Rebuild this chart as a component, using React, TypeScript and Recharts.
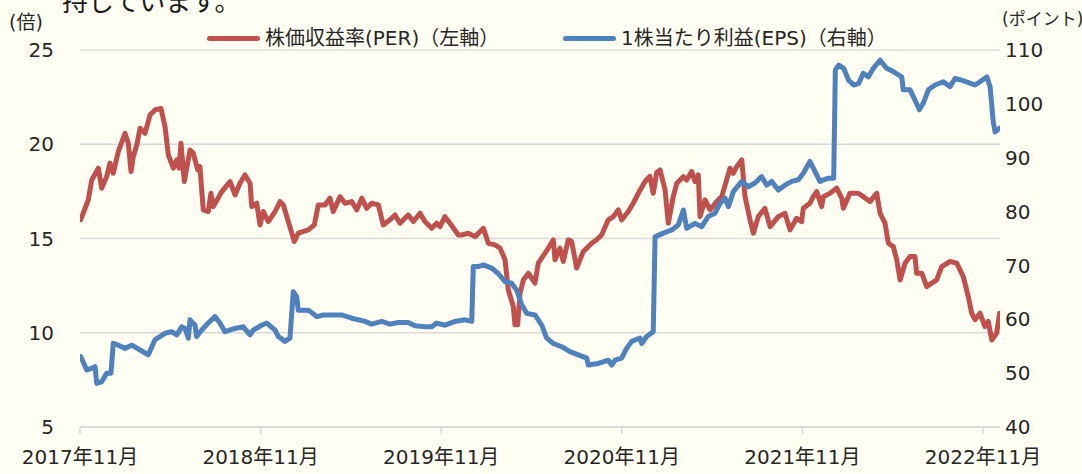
import React from 'react';
import { LineChart, Line, XAxis, YAxis, CartesianGrid, Legend } from 'recharts';

// Months elapsed since 2017年11月 for each reading
const perMonth = [
  0.05, 0.55, 0.78, 1.22, 1.44, 1.77, 1.99, 2.21, 2.54, 2.99,
  3.21, 3.39, 3.54, 3.77, 3.99, 4.32, 4.65, 4.98, 5.38, 5.65,
  5.87, 6.2, 6.43, 6.58, 6.71, 6.93, 7.31, 7.53, 7.82, 7.97,
  8.19, 8.52, 8.7, 8.86, 9.42, 9.97, 10.3, 10.63, 10.96, 11.3,
  11.41, 11.74, 11.96, 12.18, 12.51, 12.96, 13.29, 13.51, 13.84, 14.24,
  14.5, 15.17, 15.57, 15.83, 16.28, 16.61, 16.83, 17.28, 17.61, 18.05,
  18.39, 18.72, 19.05, 19.38, 19.82, 20.15, 20.6, 20.93, 21.26, 21.81,
  22.15, 22.59, 22.92, 23.37, 23.7, 23.92, 24.25, 24.58, 25.14, 25.36,
  25.8, 26.25, 26.8, 27.13, 27.57, 27.91, 28.24, 28.46, 28.79, 28.9,
  29.08, 29.24, 29.46, 29.79, 30.23, 30.45, 30.9, 31.45, 31.56, 31.89,
  32.11, 32.44, 32.67, 33.0, 33.44, 34.0, 34.33, 34.66, 35.1, 35.44,
  35.77, 35.99, 36.43, 36.76, 37.1, 37.54, 37.87, 38.09, 38.32, 38.54,
  38.87, 39.09, 39.42, 39.65, 40.09, 40.31, 40.64, 40.86, 41.08, 41.2,
  41.53, 41.86, 42.31, 42.64, 43.19, 43.41, 43.63, 43.97, 44.19, 44.52,
  44.74, 45.07, 45.51, 45.85, 46.4, 46.84, 47.18, 47.62, 47.95, 48.06,
  48.5, 48.72, 48.95, 49.28, 49.39, 49.83, 50.28, 50.61, 50.72, 51.16,
  51.71, 52.05, 52.49, 52.94, 53.16, 53.49, 53.71, 54.04, 54.27, 54.49,
  54.82, 55.15, 55.48, 55.59, 55.93, 56.26, 56.59, 56.92, 57.26, 57.81,
  58.25, 58.69, 59.02, 59.25, 59.47, 59.8, 60.13, 60.35, 60.58, 60.91,
  61.1,
];

// 株価収益率 (PER, 倍)
const perValues = [
  16.0, 17.05, 18.1, 18.73, 17.67, 18.28, 19.0, 18.46, 19.6, 20.58,
  20.05, 18.55, 19.34, 19.96, 20.85, 20.58, 21.55, 21.82, 21.9, 20.93,
  19.43, 18.73, 19.17, 18.73, 20.05, 18.02, 19.7, 19.52, 18.64, 18.81,
  16.52, 16.43, 17.4, 16.69, 17.49, 18.02, 17.31, 17.93, 18.37, 17.93,
  16.69, 16.87, 15.72, 16.43, 15.9, 16.43, 16.96, 16.78, 15.9, 14.84,
  15.28, 15.46, 15.72, 16.78, 16.78, 17.14, 16.43, 17.22, 16.87, 16.96,
  16.52, 17.14, 16.6, 16.87, 16.78, 15.72, 15.99, 16.25, 15.81, 16.25,
  15.9, 16.34, 15.9, 15.54, 15.81, 15.63, 16.16, 15.81, 15.19, 15.19,
  15.28, 15.1, 15.54, 14.75, 14.66, 14.49, 13.87, 12.27, 11.39, 10.42,
  10.42, 12.1, 12.8, 13.16, 12.63, 13.69, 14.22, 14.93, 13.87, 14.49,
  13.78, 14.93, 14.84, 13.43, 14.31, 14.75, 14.93, 15.19, 15.99, 16.16,
  16.52, 15.99, 16.43, 16.87, 17.4, 18.02, 18.3, 17.4, 18.5, 18.64,
  17.6, 15.81, 17.22, 17.93, 18.28, 18.1, 18.55, 18.02, 18.37, 16.16,
  17.05, 16.52, 16.96, 17.22, 18.73, 18.46, 18.81, 19.17, 17.22, 15.99,
  15.28, 16.16, 16.6, 15.63, 16.16, 16.34, 15.46, 16.07, 15.9, 16.6,
  16.87, 17.22, 17.49, 16.69, 17.22, 17.4, 17.67, 17.14, 16.6, 17.4,
  17.4, 17.22, 16.96, 17.4, 16.34, 15.81, 14.75, 14.57, 13.87, 12.8,
  13.69, 14.04, 14.04, 13.16, 13.16, 12.45, 12.63, 12.8, 13.51, 13.78,
  13.69, 12.98, 11.92, 11.04, 10.69, 11.04, 10.33, 10.6, 9.62, 9.98,
  11.04,
];

const epsMonth = [
  0.05, 0.45, 0.78, 1.0, 1.11, 1.44, 1.77, 2.06, 2.21, 2.54,
  2.99, 3.44, 3.99, 4.54, 4.98, 5.65, 6.09, 6.43, 6.76, 6.98,
  7.2, 7.31, 7.64, 7.75, 8.09, 8.52, 8.97, 9.3, 9.63, 10.3,
  10.85, 11.3, 11.51, 12.07, 12.41, 12.96, 13.18, 13.62, 13.95, 14.17,
  14.4, 14.5, 15.17, 15.73, 16.17, 17.39, 18.05, 18.94, 19.38, 20.05,
  20.6, 21.15, 21.81, 22.26, 22.92, 23.37, 23.7, 24.25, 24.92, 25.58,
  26.03, 26.13, 26.47, 26.8, 27.36, 27.79, 28.24, 28.68, 29.02, 29.35,
  29.68, 30.23, 30.68, 31.01, 31.45, 32.01, 32.56, 33.11, 33.67, 33.78,
  34.44, 35.1, 35.33, 35.55, 35.99, 36.32, 36.66, 37.21, 37.32, 37.65,
  38.09, 38.21, 38.76, 39.32, 39.75, 40.09, 40.31, 40.86, 41.31, 41.75,
  42.19, 42.52, 42.86, 43.08, 43.41, 43.97, 44.41, 44.85, 45.29, 45.63,
  45.96, 46.4, 46.84, 47.29, 47.73, 48.06, 48.5, 48.84, 49.16, 49.72,
  50.08, 50.19, 50.41, 50.74, 51.07, 51.41, 51.74, 52.05, 52.38, 52.71,
  53.16, 53.6, 54.04, 54.37, 54.6, 54.7, 55.15, 55.48, 55.77, 56.03,
  56.37, 56.81, 57.36, 57.81, 58.14, 58.58, 59.47, 59.8, 60.25, 60.47,
  60.68, 60.8, 61.1,
];

// 1株当たり利益 (EPS, ポイント)
const epsValues = [
  53.06, 50.59, 50.9, 51.2, 48.1, 48.4, 50.0, 50.0, 55.55, 55.2,
  54.6, 55.2, 54.3, 53.4, 56.2, 57.4, 57.7, 57.1, 58.6, 58.3,
  56.5, 59.9, 58.9, 56.8, 58.0, 59.3, 60.5, 59.3, 57.7, 58.3,
  58.6, 57.1, 58.0, 58.9, 59.3, 58.0, 56.8, 55.9, 56.5, 65.1,
  64.2, 61.7, 61.7, 60.5, 60.8, 60.8, 60.2, 59.6, 59.1, 59.6,
  59.1, 59.4, 59.4, 58.8, 58.6, 58.6, 59.3, 58.9, 59.6, 59.9,
  59.6, 69.8, 69.8, 70.1, 69.5, 68.5, 67.0, 66.7, 65.4, 62.7,
  61.1, 60.8, 58.9, 56.5, 55.5, 54.9, 54.0, 53.4, 52.8, 51.5,
  51.8, 52.4, 51.5, 52.4, 52.8, 54.6, 55.9, 56.5, 55.5, 56.8,
  57.7, 75.3, 76.0, 76.6, 77.5, 80.3, 76.9, 77.8, 77.2, 79.1,
  79.7, 81.5, 82.5, 80.9, 83.7, 85.6, 84.6, 85.3, 86.5, 84.9,
  85.6, 84.0, 84.9, 85.6, 85.9, 87.1, 89.3, 87.4, 85.6, 86.2,
  86.2, 106.3, 107.2, 106.6, 104.4, 103.5, 103.8, 105.7, 105.0, 106.6,
  108.1, 106.6, 106.0, 105.4, 105.0, 102.6, 102.6, 100.7, 98.9, 100.1,
  102.6, 103.5, 104.1, 103.2, 104.7, 104.4, 103.5, 104.1, 105.0, 103.2,
  96.7, 94.8, 95.5,
];

const xTickMonths = [0, 12, 24, 36, 48, 60];
const xTickLabels = ['2017年11月', '2018年11月', '2019年11月', '2020年11月', '2021年11月', '2022年11月'];
const perTicks = [5, 10, 15, 20, 25];
const epsTicks = [40, 50, 60, 70, 80, 90, 100, 110];
const seriesNames = ['株価収益率(PER)（左軸）', '1株当たり利益(EPS)（右軸）'];
const leftUnit = '(倍)';
const rightUnit = '(ポイント)';
const headText = '持しています。';

const perData = perMonth.slice(0, perValues.length).map((m, i) => ({ m, per: perValues[i] }));
const epsData = epsMonth.slice(0, epsValues.length).map((m, i) => ({ m, eps: epsValues[i] }));

const FONT = '"DejaVu Sans", "Noto Sans CJK JP", sans-serif';
const BG = '#FFFEF2';
const RED = '#C0504D';
const BLUE = '#4F81BD';
const GRID = '#D9D9D9';
const TEXT = '#262626';

const legendPos = [
  { left: 207, top: 27 },
  { left: 563, top: 27 },
];

const renderLegend = (props: any) => {
  const payload = (props.payload || []).slice().sort(
    (a: any, b: any) => seriesNames.indexOf(a.value) - seriesNames.indexOf(b.value)
  );
  return (
    <div style={{ position: 'relative', width: 1082, height: 0 }}>
      {payload.map((entry: any, i: number) => (
        <div
          key={entry.value}
          style={{
            position: 'absolute',
            left: legendPos[i].left,
            top: legendPos[i].top,
            display: 'flex',
            alignItems: 'center',
            whiteSpace: 'nowrap',
            height: 22,
          }}
        >
          <span
            style={{
              display: 'inline-block',
              width: 53,
              height: 5,
              borderRadius: 2.5,
              background: entry.color,
              marginRight: 5,
            }}
          />
          <span style={{ fontFamily: FONT, fontSize: 20, color: TEXT, lineHeight: '22px' }}>{entry.value}</span>
        </div>
      ))}
    </div>
  );
};

export default function App() {
  return (
    <div
      style={{
        position: 'absolute',
        left: 0,
        top: 0,
        width: 1082,
        height: 474,
        background: BG,
        overflow: 'hidden',
      }}
    >
      <LineChart width={1082} height={474} margin={{ top: 50, right: 0, bottom: 7, left: 0 }}>
        <CartesianGrid yAxisId="left" vertical={false} stroke={GRID} strokeWidth={1.5} />
        <XAxis
          dataKey="m"
          type="number"
          domain={[0, 61.13]}
          allowDataOverflow
          ticks={xTickMonths}
          tickFormatter={(v: number) => xTickLabels[xTickMonths.indexOf(v)] ?? ''}
          height={40}
          axisLine={{ stroke: GRID, strokeWidth: 1.5 }}
          tickLine={{ stroke: GRID, strokeWidth: 1.5 }}
          tickSize={7}
          tickMargin={16}
          interval={0}
          tick={{ fontSize: 20, fill: TEXT, fontFamily: FONT }}
        />
        <YAxis
          yAxisId="left"
          orientation="left"
          domain={[5, 25]}
          ticks={perTicks}
          width={80}
          axisLine={false}
          tickLine={false}
          tickSize={0}
          tickMargin={26}
          interval={0}
          tick={{ fontSize: 20, fill: TEXT, fontFamily: FONT }}
        />
        <YAxis
          yAxisId="right"
          orientation="right"
          domain={[40, 110]}
          ticks={epsTicks}
          width={82}
          axisLine={false}
          tickLine={false}
          tickSize={0}
          tickMargin={5}
          interval={0}
          tick={{ fontSize: 20, fill: TEXT, fontFamily: FONT, textAnchor: 'start' }}
        />
        <Legend
          verticalAlign="top"
          content={renderLegend}
          wrapperStyle={{ position: 'absolute', top: 0, left: 0, width: 1082, height: 0 }}
        />
        <Line
          data={perData}
          yAxisId="left"
          dataKey="per"
          name={seriesNames[0]}
          stroke={RED}
          strokeWidth={5}
          strokeLinejoin="round"
          strokeLinecap="round"
          dot={false}
          activeDot={false}
          type="linear"
          isAnimationActive={false}
        />
        <Line
          data={epsData}
          yAxisId="right"
          dataKey="eps"
          name={seriesNames[1]}
          stroke={BLUE}
          strokeWidth={5}
          strokeLinejoin="round"
          strokeLinecap="round"
          dot={false}
          activeDot={false}
          type="linear"
          isAnimationActive={false}
        />
      </LineChart>
      <svg
        width={1082}
        height={474}
        style={{ position: 'absolute', left: 0, top: 0, pointerEvents: 'none' }}
      >
        <text x={62} y={11} fontSize={26} fill="#1a1a1a" fontFamily='"Noto Sans CJK JP", sans-serif'>
          {headText}
        </text>
        <text x={9} y={29} fontSize={19} fill={TEXT} fontFamily={FONT}>
          {leftUnit}
        </text>
        <text x={1002} y={25} fontSize={17} fill={TEXT} fontFamily={FONT}>
          {rightUnit}
        </text>
      </svg>
    </div>
  );
}
